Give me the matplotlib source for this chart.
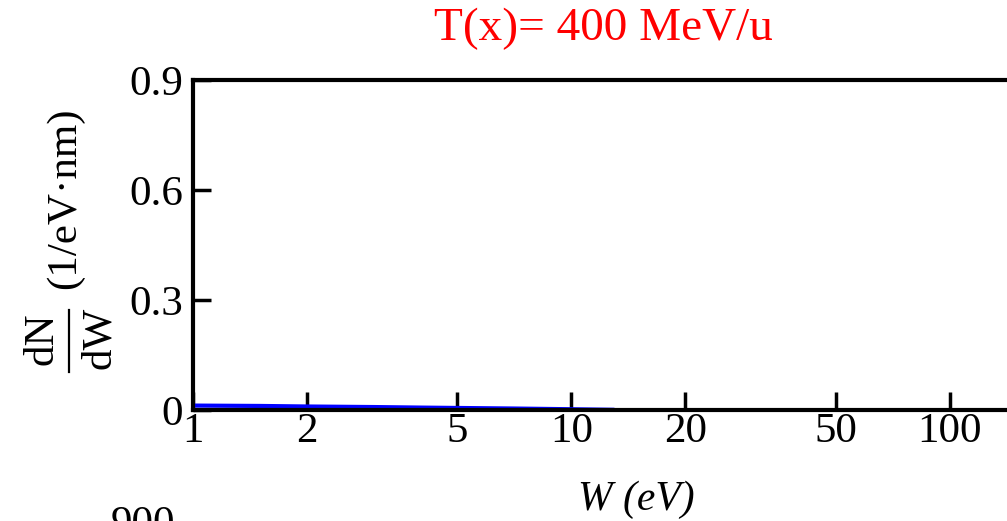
import numpy as np
import matplotlib
matplotlib.use("Agg")
import matplotlib.pyplot as plt
from matplotlib.lines import Line2D
from matplotlib.ticker import FixedLocator, FixedFormatter, NullLocator

plt.rcParams['font.family'] = ['Liberation Serif', 'DejaVu Serif']

# delta-electron spectrum at T = 400 MeV/u
W_eV = [1, 1.5, 2, 3, 4, 5, 7, 10, 13]
dN_dW = [0.012, 0.011, 0.0095, 0.008, 0.0065, 0.0055, 0.004, 0.002, 0.0005]

xticks = [1, 2, 5, 10, 20, 50, 100]
xticklabels = ['1', '2', '5', '10', '20', '50', '100']
yticks = [0, 0.3, 0.6, 0.9]
yticklabels = ['0', '0.3', '0.6', '0.9']

W, H = 1007, 521
fig = plt.figure(figsize=(W / 100, H / 100), dpi=100)
ax = fig.add_axes([0.1917, 0.2131, 0.880, 0.6334])

ax.plot(W_eV, dN_dW, color='#0000ff', lw=3, solid_capstyle='butt')

ax.set_xscale('log')
ax.set_xlim(1, 220)
ax.set_ylim(0, 0.9)
ax.xaxis.set_major_locator(FixedLocator(xticks))
ax.xaxis.set_major_formatter(FixedFormatter(xticklabels))
ax.xaxis.set_minor_locator(NullLocator())
ax.set_yticks(yticks)
ax.set_yticklabels(yticklabels)

for s in ax.spines.values():
    s.set_linewidth(3)
ax.tick_params(axis='both', direction='in', length=13, width=2.5,
               labelsize=31, colors='black')
ax.tick_params(axis='x', pad=2)
ax.tick_params(axis='y', pad=7)

def px(x, y):
    # pixel position (from top-left) -> figure fraction
    return x / W, 1 - y / H

fig.text(*px(603, 40), 'T(x)= 400 MeV/u', color='#ff0000', fontsize=34,
         ha='center', va='baseline')
fig.text(0.632, 0.04, 'W (eV)', fontsize=30, style='italic',
         ha='center', va='center')

# y label: dN/dW as a stacked fraction, then the unit
vert = dict(fontsize=31, rotation=90, rotation_mode='anchor',
            ha='center', va='baseline')
fig.text(*px(52, 339), 'dN', **vert)
fig.text(*px(110, 338), 'dW', **vert)
fig.add_artist(Line2D([69 / W, 69 / W], [1 - 310 / H, 1 - 372 / H],
                      transform=fig.transFigure, color='black', lw=1.6))
fig.text(*px(75, 198), '(1/eV·nm)', **vert)

# tick label of the panel below
fig.text(0.142, -0.027, '900', fontsize=31, ha='center', va='baseline')

fig.savefig('out.png', dpi=100)
